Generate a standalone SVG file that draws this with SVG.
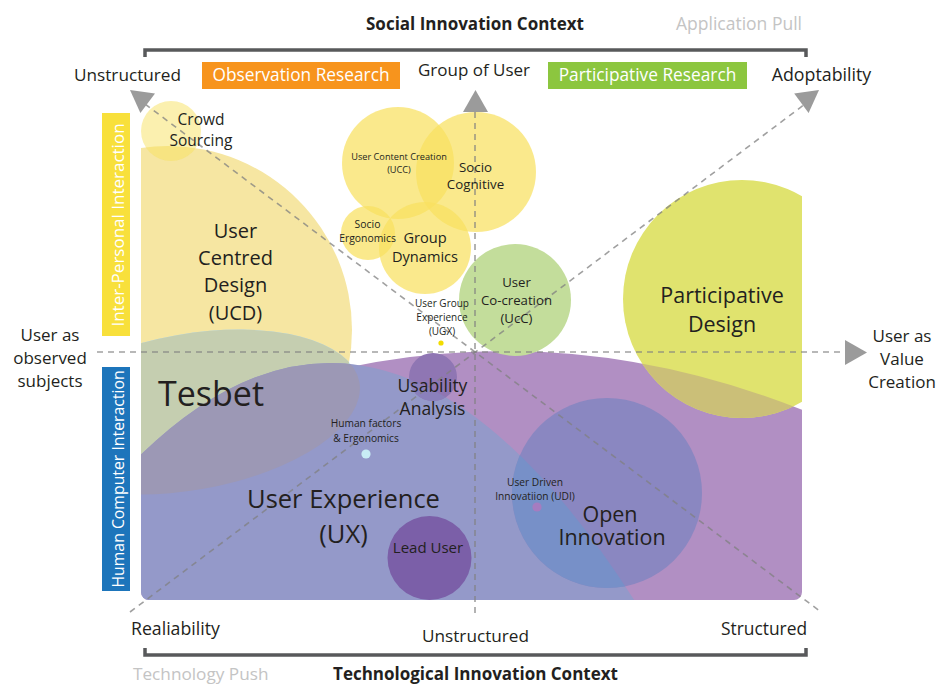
<svg xmlns="http://www.w3.org/2000/svg" width="936" height="684" viewBox="0 0 936 684">
<defs>
<style>
text{font-family:"Open Sans","Liberation Sans",sans-serif;fill:#231f20}
.m{text-anchor:middle}
.w{fill:#fff}
.gr{fill:#c4c4c4}
.b{font-weight:700}
.ax{fill:none;stroke:#808080;stroke-opacity:.75;stroke-width:1.6;stroke-dasharray:6 5}
.ah{fill:#9b9b9b}
.br{fill:none;stroke:#58595b;stroke-width:3.5}
.ylw{fill:#f8e160;fill-opacity:.72}
</style>
<clipPath id="plot"><rect x="141" y="90" width="661" height="510" rx="8"/></clipPath>
<clipPath id="cUCD"><circle cx="168" cy="330" r="184"/></clipPath>
<clipPath id="cTes"><ellipse cx="190" cy="412" rx="172" ry="78" transform="rotate(-10 190 412)"/></clipPath>
<clipPath id="cUX"><path d="M130,465.6 Q395,193.7 660,642 L660,700 L130,700 Z"/></clipPath>
<clipPath id="cPur"><path d="M130,444.75 Q475,272.25 820,417.15 L820,700 L130,700 Z"/></clipPath>
</defs>
<rect width="936" height="684" fill="#fff"/>

<!-- headers and brackets -->
<g id="social-context">
<text class="m b" x="475" y="30" font-size="17">Social Innovation Context</text>
<text class="m gr" x="739" y="30" font-size="17.5">Application Pull</text>
<path class="br" d="M145,57 V50 H806 V57"/>
</g>
<g id="tech-context">
<path class="br" d="M145,648 V655 H806 V648"/>
<text class="gr" x="133" y="680" font-size="17.2">Technology Push</text>
<text class="m b" x="475.5" y="680" font-size="17">Technological Innovation Context</text>
</g>

<!-- shapes -->
<g id="open-innovation-field" clip-path="url(#plot)">
<path d="M130,444.75 Q475,272.25 820,417.15 L820,700 L130,700 Z" fill="#b18fc3"/>
</g>
<g id="ucd" clip-path="url(#plot)">
<circle cx="168" cy="330" r="184" fill="#f6e6a2"/>
</g>
<g id="crowd-sourcing" clip-path="url(#plot)">
<circle cx="171" cy="131" r="30" fill="#f8e160" fill-opacity=".5"/>
</g>
<g id="tesbet" clip-path="url(#plot)">
<ellipse cx="190" cy="412" rx="172" ry="78" transform="rotate(-10 190 412)" fill="#c1e4f4"/>
<g clip-path="url(#cUCD)"><ellipse cx="190" cy="412" rx="172" ry="78" transform="rotate(-10 190 412)" fill="#c5ceb0"/></g>
</g>
<g id="ux" clip-path="url(#plot)">
<path d="M130,465.6 Q395,193.7 660,642 L660,700 L130,700 Z" fill="#9499c9"/>
<g clip-path="url(#cTes)"><path d="M130,465.6 Q395,193.7 660,642 L660,700 L130,700 Z" fill="#9c98b5"/></g>
</g>
<g id="open-innovation" clip-path="url(#plot)">
<circle cx="607" cy="493" r="95" fill="#8a87c1"/>
<g clip-path="url(#cUX)"><circle cx="607" cy="493" r="95" fill="#7790c8"/></g>
</g>
<g id="usability-analysis" clip-path="url(#plot)">
<circle cx="433" cy="377" r="24" fill="#8f76b3"/>
<g clip-path="url(#cUX)"><circle cx="433" cy="377" r="24" fill="#8a80bb"/></g>
</g>
<g id="lead-user" clip-path="url(#plot)">
<circle cx="429.5" cy="558" r="42" fill="#7b5fa8"/>
</g>
<g id="participative-design" clip-path="url(#plot)">
<circle cx="742" cy="299" r="119" fill="#e0e36e"/>
<g clip-path="url(#cPur)"><circle cx="742" cy="299" r="119" fill="#cbbf78"/></g>
</g>
<g id="user-co-creation">
<circle cx="515" cy="300" r="56" fill="#c3dd9b"/>
</g>
<g id="ucc"><circle class="ylw" cx="398" cy="163" r="56"/></g>
<g id="socio-cognitive"><circle class="ylw" cx="476" cy="172" r="60"/></g>
<g id="socio-ergonomics"><circle class="ylw" cx="368" cy="233" r="27"/></g>
<g id="group-dynamics"><circle class="ylw" cx="425" cy="248" r="46"/></g>
<g id="ugx"><circle cx="441" cy="343" r="2.6" fill="#f2dc00"/></g>
<g id="human-factors"><circle cx="366" cy="454" r="4.6" fill="#c8edf5"/></g>
<g id="udi"><circle cx="537" cy="507" r="4.6" fill="#a57cc0"/></g>

<!-- axes -->
<g id="axes">
<line class="ax" x1="97" y1="352" x2="842" y2="352"/>
<line class="ax" x1="475" y1="112" x2="475" y2="618"/>
<line class="ax" x1="145" y1="104" x2="821" y2="612"/>
<line class="ax" x1="130" y1="612" x2="805" y2="104"/>
<polygon class="ah" points="130,90 155,93.6 140.4,113"/>
<polygon class="ah" points="819,90 794.2,93.6 808.6,113"/>
<polygon class="ah" points="463,112 488,112 475.5,90"/>
<polygon class="ah" points="845,340 845,365 867,352.5"/>
</g>

<!-- side bars -->
<g id="inter-personal">
<rect x="102" y="113" width="28" height="223" fill="#f8e03b"/>
<text class="m w" transform="translate(123.5,225) rotate(-90)" font-size="17">Inter-Personal Interaction</text>
</g>
<g id="hci">
<rect x="102" y="367" width="28" height="224" fill="#1d75bb"/>
<text class="m w" transform="translate(123.5,479) rotate(-90)" font-size="15.8">Human Computer Interaction</text>
</g>

<!-- axis labels -->
<g id="labels">
<text class="m" x="127.5" y="81" font-size="17.2">Unstructured</text>
<rect x="202" y="62" width="198" height="27" fill="#f7941d"/>
<text class="m w" x="301" y="81" font-size="17.3">Observation Research</text>
<text class="m" x="474" y="76" font-size="17">Group of User</text>
<rect x="548" y="62" width="199" height="27" fill="#8cc63f"/>
<text class="m w" x="647.5" y="81" font-size="17.3">Participative Research</text>
<text class="m" x="821.5" y="81" font-size="17.8">Adoptability</text>
<text class="m" font-size="17"><tspan x="50" y="341">User as</tspan><tspan x="50" y="364">observed</tspan><tspan x="50" y="387">subjects</tspan></text>
<text class="m" font-size="17"><tspan x="902" y="342">User as</tspan><tspan x="902" y="365">Value</tspan><tspan x="902" y="388">Creation</tspan></text>
<text x="131" y="635" font-size="17.7">Realiability</text>
<text class="m" x="475.5" y="642" font-size="17.2">Unstructured</text>
<text class="m" x="764" y="635" font-size="17.4">Structured</text>
</g>

<!-- node texts -->
<g id="node-texts">
<text class="m" font-size="15.5"><tspan x="201" y="125">Crowd</tspan><tspan x="201" y="146">Sourcing</tspan></text>
<text class="m" font-size="20"><tspan x="235.5" y="238">User</tspan><tspan x="235.5" y="265">Centred</tspan><tspan x="235.5" y="292">Design</tspan><tspan x="235.5" y="320">(UCD)</tspan></text>
<text x="158" y="406" font-size="34">Tesbet</text>
<text class="m" font-size="9.2"><tspan x="399" y="160">User Content Creation</tspan><tspan x="399" y="173">(UCC)</tspan></text>
<text class="m" font-size="13.3"><tspan x="475.5" y="172">Socio</tspan><tspan x="475.5" y="189">Cognitive</tspan></text>
<text class="m" font-size="10.4"><tspan x="367.5" y="228">Socio</tspan><tspan x="367.5" y="242">Ergonomics</tspan></text>
<text class="m" font-size="14.6"><tspan x="425" y="243">Group</tspan><tspan x="425" y="262">Dynamics</tspan></text>
<text class="m" font-size="13.2"><tspan x="516.5" y="287">User</tspan><tspan x="516.5" y="305">Co-creation</tspan><tspan x="516.5" y="323">(UcC)</tspan></text>
<text class="m" font-size="10"><tspan x="442" y="307">User Group</tspan><tspan x="442" y="321">Experience</tspan><tspan x="442" y="335">(UGX)</tspan></text>
<text class="m" font-size="17.5"><tspan x="432.5" y="392">Usability</tspan><tspan x="432.5" y="415">Analysis</tspan></text>
<text class="m" font-size="10.2"><tspan x="366" y="427">Human factors</tspan><tspan x="366" y="442">&amp; Ergonomics</tspan></text>
<text class="m" font-size="25.5"><tspan x="343.5" y="508">User Experience</tspan><tspan x="343.5" y="543">(UX)</tspan></text>
<text class="m" x="428" y="553" font-size="15">Lead User</text>
<text class="m" font-size="10.2"><tspan x="535" y="486">User Driven</tspan><tspan x="535" y="500">Innovatiion (UDI)</tspan></text>
<text class="m" font-size="21.5"><tspan x="610" y="522">Open</tspan><tspan x="612" y="545">Innovation</tspan></text>
<text class="m" font-size="21.5"><tspan x="722" y="303">Participative</tspan><tspan x="722" y="332">Design</tspan></text>
</g>
</svg>
